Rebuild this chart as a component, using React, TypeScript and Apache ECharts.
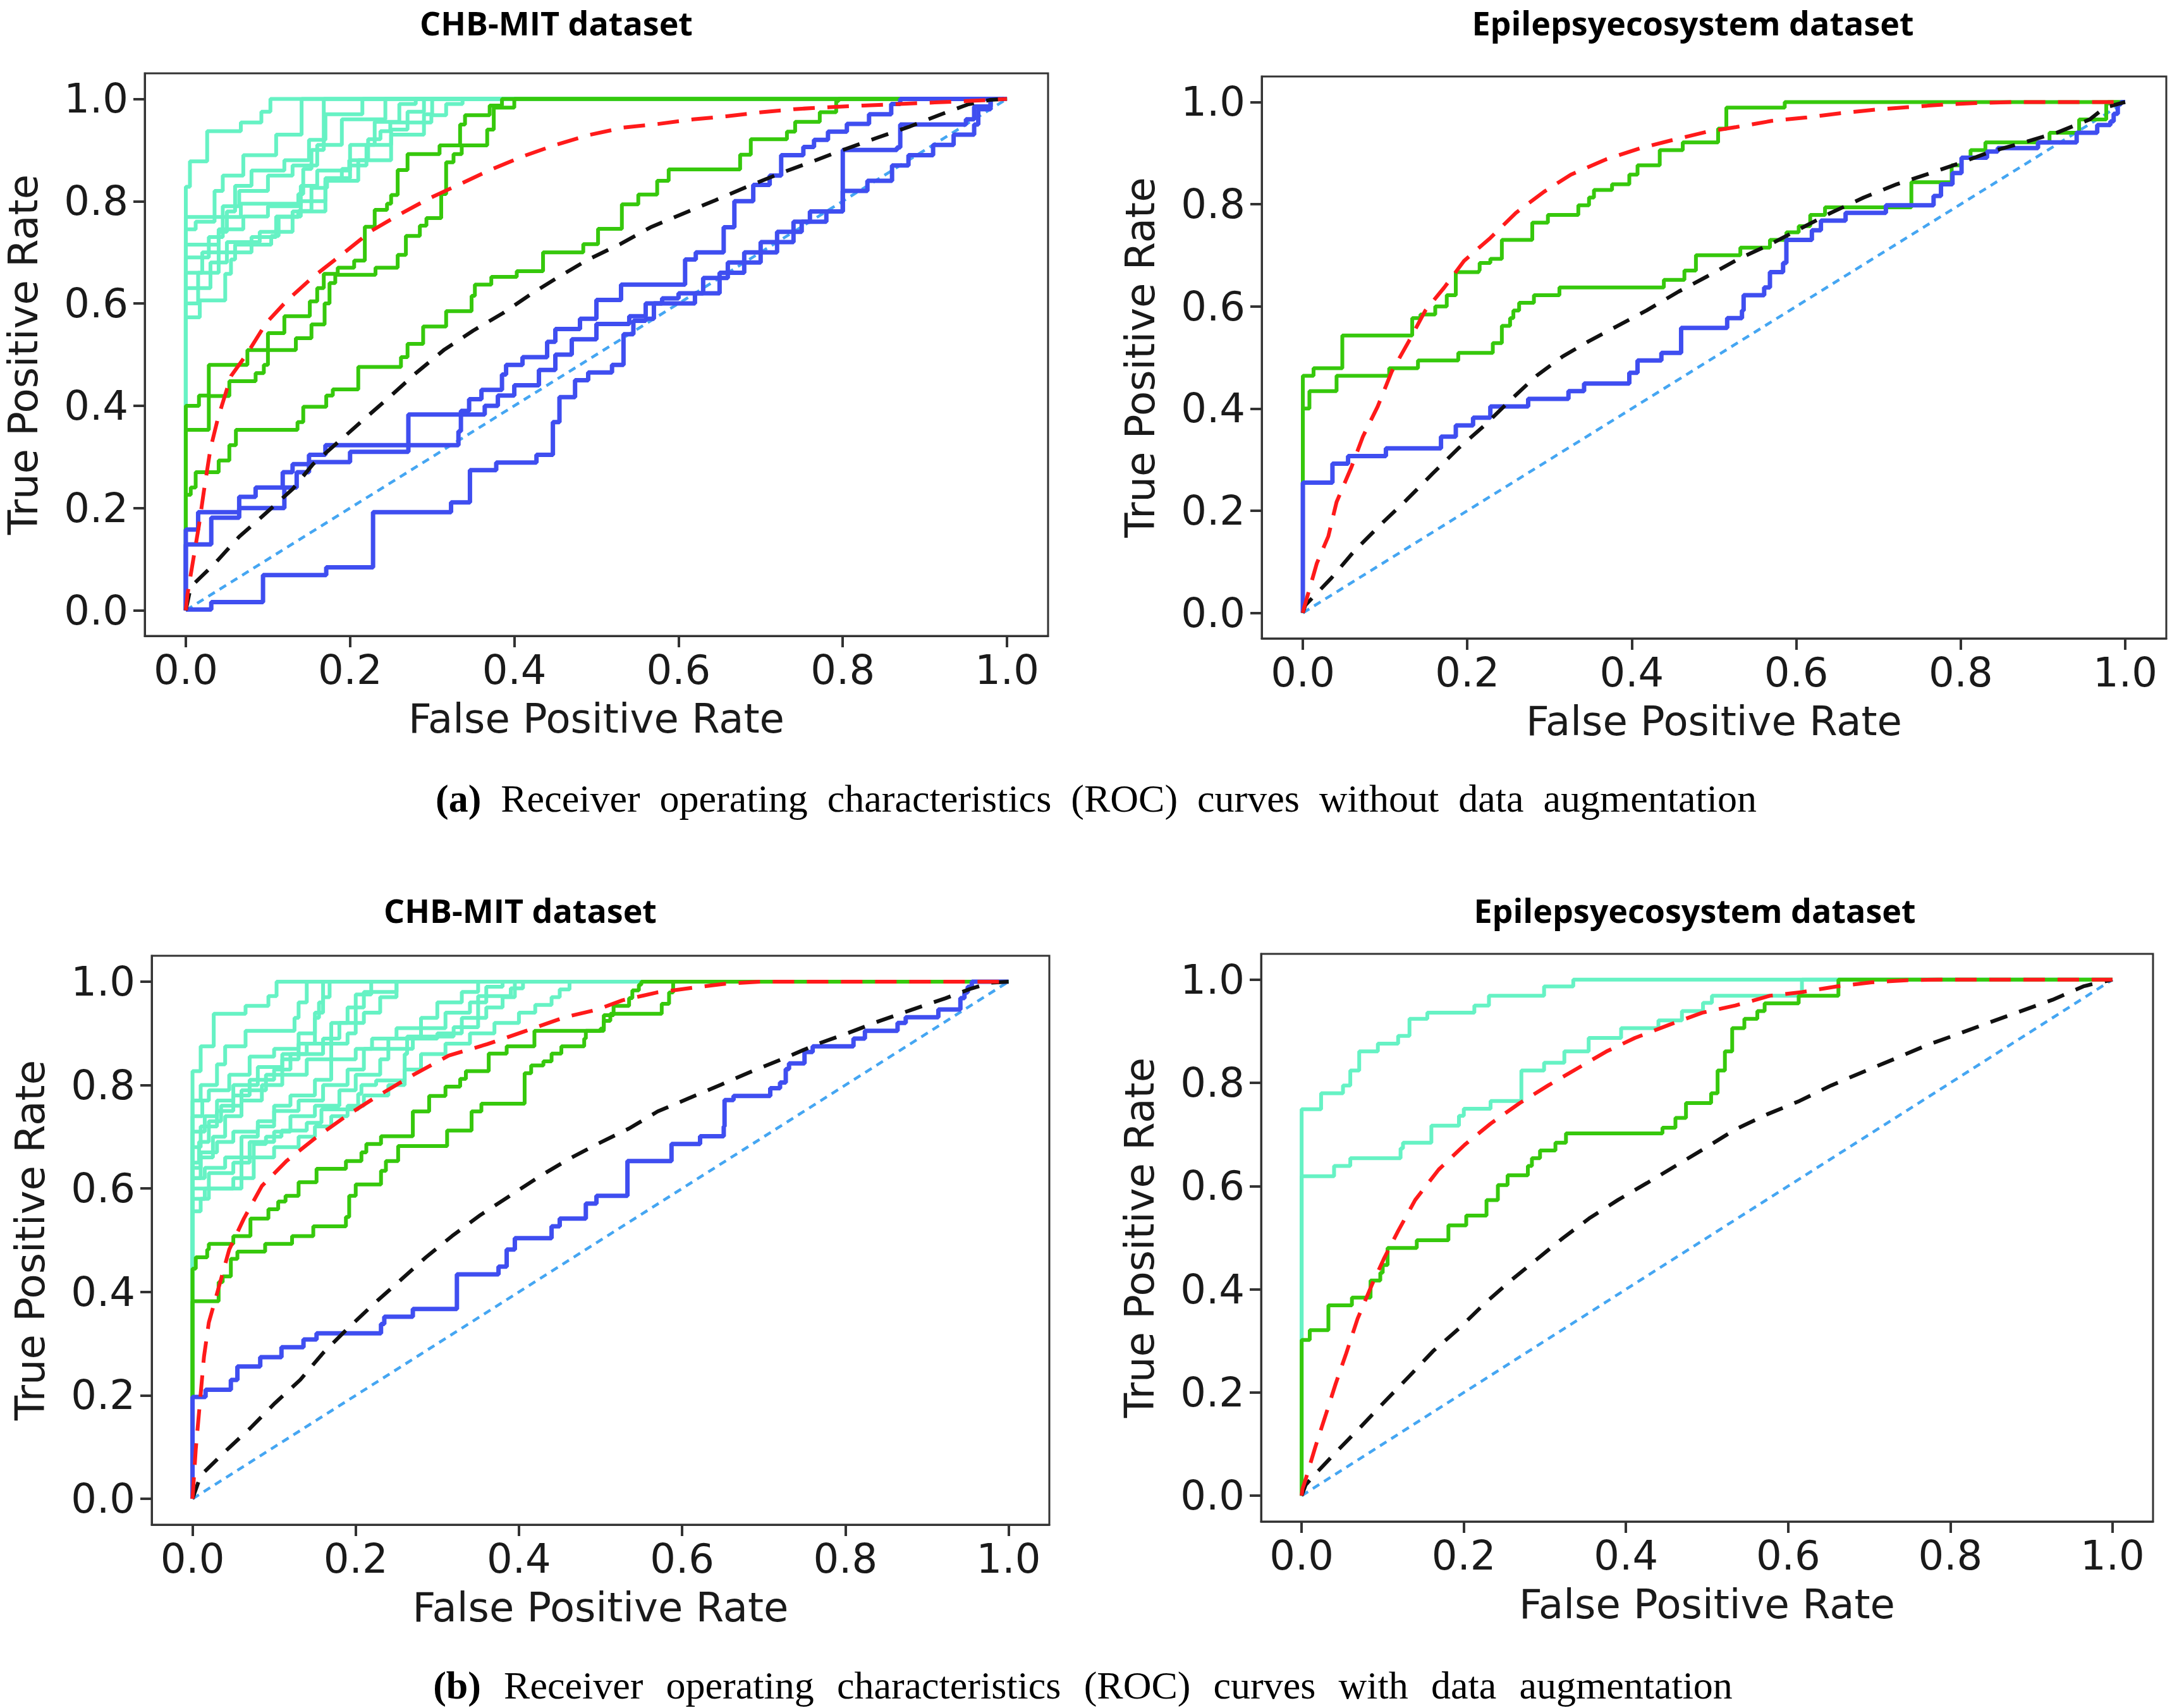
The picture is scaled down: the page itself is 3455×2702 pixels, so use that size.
import React, { useEffect, useRef } from "react";
import * as echarts from "echarts";

type Pt = [number, number];

// ---------- shared ----------
const tickValues = [0, 0.2, 0.4, 0.6, 0.8, 1.0];
const diagonal: Pt[] = [[0, 0], [1, 1]];
const panelTitles = ["CHB-MIT dataset", "Epilepsyecosystem dataset", "CHB-MIT dataset", "Epilepsyecosystem dataset"];
const xAxisTitle = "False Positive Rate";
const yAxisTitle = "True Positive Rate";
const captionA = ["(a)", "Receiver operating characteristics (ROC) curves without data augmentation"];
const captionB = ["(b)", "Receiver operating characteristics (ROC) curves with data augmentation"];

// ---------- (a) CHB-MIT ----------
const aChbCyan: Pt[][] = [
  [[0, 0], [0, .828], [.005, .878], [.026, .937], [.067, .954], [.092, .975], [.103, 1], [1, 1]],
  [[0, 0], [0, .769], [.067, .795], [.137, .814], [.143, .863], [.153, .9], [.168, 1], [1, 1]],
  [[0, 0], [0, .745], [.012, .76], [.035, .82], [.045, .85], [.07, .89], [.11, .93], [.141, 1], [1, 1]],
  [[0, 0], [0, .715], [.04, .74], [.05, .78], [.06, .83], [.08, .86], [.12, .88], [.15, .92], [.17, .97], [.215, 1], [1, 1]],
  [[0, 0], [0, .69], [.028, .73], [.045, .79], [.065, .82], [.1, .85], [.13, .87], [.16, .91], [.19, .96], [.243, 1], [1, 1]],
  [[0, 0], [0, .66], [.02, .7], [.04, .745], [.07, .77], [.1, .79], [.14, .83], [.16, .86], [.2, .91], [.23, .955], [.26, .99], [.28, 1], [1, 1]],
  [[0, 0], [0, .63], [.03, .68], [.05, .72], [.09, .74], [.13, .78], [.17, .84], [.21, .88], [.25, .93], [.29, .97], [.3, 1], [1, 1]],
  [[0, 0], [0, .6], [.015, .66], [.04, .7], [.08, .73], [.11, .77], [.14, .8], [.17, .845], [.2, .87], [.22, .91], [.25, .94], [.27, .975], [.29, 1], [1, 1]],
  [[0, 0], [0, .573], [.017, .606], [.048, .658], [.055, .686], [.06, .715], [.104, .732], [.113, .769], [.137, .781], [.153, .826], [.172, .843], [.19, .863], [.199, .88], [.222, .921], [.237, .937], [.249, .954], [.299, .968], [.317, .99], [.337, 1], [1, 1]],
];
const aChbGreen: Pt[][] = [
  [[0, 0], [0, .4], [.016, .42], [.028, .48], [.075, .509], [.1, .542], [.12, .575], [.151, .604], [.16, .63], [.168, .658], [.185, .67], [.205, .684], [.218, .75], [.23, .783], [.245, .795], [.25, .812], [.258, .861], [.27, .892], [.309, .909], [.334, .95], [.34, .968], [.37, .987], [.385, 1], [1, 1]],
  [[0, 0], [0, .353], [.028, .419], [.053, .448], [.085, .464], [.095, .48], [.1, .509], [.134, .532], [.153, .559], [.169, .6], [.175, .64], [.182, .656], [.231, .67], [.258, .695], [.268, .732], [.285, .752], [.293, .767], [.311, .814], [.317, .876], [.326, .892], [.336, .909], [.367, .94], [.375, .983], [.4, 1], [1, 1]],
  [[0, 0], [0, .226], [.006, .24], [.012, .27], [.04, .293], [.053, .323], [.061, .353], [.136, .368], [.143, .398], [.171, .42], [.179, .432], [.21, .476], [.262, .495], [.27, .521], [.289, .555], [.317, .585], [.348, .615], [.352, .637], [.372, .652], [.403, .663], [.435, .7], [.484, .716], [.502, .746], [.531, .794], [.551, .813], [.574, .84], [.588, .862], [.675, .891], [.688, .921], [.732, .936], [.742, .955], [.772, .974], [.792, .996], [.795, 1], [1, 1]],
];
const aChbBlue: Pt[][] = [
  [[0, 0], [0, .158], [.015, .192], [.065, .222], [.085, .24], [.118, .27], [.13, .286], [.15, .304], [.17, .323], [.332, .35], [.335, .39], [.345, .413], [.36, .431], [.385, .461], [.39, .48], [.41, .495], [.44, .525], [.45, .55], [.48, .57], [.5, .607], [.53, .637], [.608, .686], [.621, .7], [.655, .749], [.668, .8], [.691, .832], [.711, .85], [.725, .89], [.752, .906], [.765, .92], [.782, .936], [.805, .951], [.832, .97], [.859, .99], [.87, 1], [1, 1]],
  [[0, 0], [0, .129], [.031, .181], [.065, .2], [.12, .24], [.135, .27], [.15, .29], [.2, .31], [.271, .383], [.364, .4], [.38, .42], [.4, .44], [.43, .47], [.45, .5], [.47, .53], [.5, .56], [.54, .575], [.56, .6], [.58, .61], [.6, .62], [.63, .65], [.66, .68], [.7, .7], [.72, .74], [.75, .76], [.78, .78], [.8, .9], [.866, .905], [.87, .95], [.95, .96], [.96, .985], [.98, 1], [1, 1]],
  [[0, 0], [0, .0015], [.031, .016], [.094, .069], [.171, .084], [.228, .192], [.323, .211], [.346, .274], [.378, .289], [.427, .304], [.447, .368], [.455, .417], [.474, .45], [.49, .465], [.519, .48], [.533, .54], [.545, .566], [.56, .57], [.57, .6], [.6, .6], [.62, .62], [.65, .66], [.68, .7], [.7, .72], [.74, .76], [.76, .78], [.8, .82], [.83, .84], [.86, .87], [.88, .89], [.91, .91], [.935, .93], [.96, .95], [.965, .98], [.98, 1], [1, 1]],
];
const aChbRed: Pt[] = [[0, 0], [.002, .031], [.016, .166], [.022, .233], [.03, .316], [.039, .375], [.055, .458], [.075, .503], [.098, .562], [.124, .607], [.155, .652], [.191, .697], [.226, .742], [.258, .772], [.297, .806], [.332, .832], [.372, .862], [.411, .888], [.45, .91], [.49, .929], [.533, .944], [.575, .951], [.618, .96], [.658, .966], [.701, .974], [.741, .98], [.785, .984], [.825, .987], [.869, .99], [.912, .993], [.952, .996], [.979, .998], [1, 1]];
const aChbBlack: Pt[] = [[0, 0], [.006, .046], [.035, .091], [.065, .144], [.096, .188], [.13, .237], [.155, .286], [.187, .331], [.218, .375], [.25, .42], [.281, .465], [.315, .51], [.35, .547], [.386, .581], [.421, .619], [.454, .652], [.49, .686], [.529, .716], [.566, .749], [.606, .776], [.645, .802], [.683, .828], [.723, .854], [.762, .877], [.8, .9], [.84, .923], [.88, .945], [.92, .97], [.952, .989], [.979, .998], [1, 1]];

// ---------- (a) Epilepsyecosystem ----------
const aEpiCyan: Pt[][] = [];
const aEpiGreen: Pt[][] = [
  [[0, 0], [0, .464], [.013, .479], [.048, .543], [.133, .577], [.143, .584], [.161, .6], [.175, .622], [.186, .667], [.214, .67], [.215, .685], [.228, .693], [.242, .73], [.279, .764], [.298, .779], [.335, .798], [.348, .813], [.354, .828], [.376, .839], [.397, .858], [.407, .876], [.434, .906], [.462, .921], [.505, .948], [.515, .989], [.586, 1], [1, 1]],
  [[0, 0], [0, .4], [.008, .434], [.041, .464], [.105, .479], [.14, .494], [.189, .509], [.231, .528], [.242, .562], [.252, .577], [.256, .592], [.263, .607], [.281, .622], [.312, .637], [.439, .652], [.464, .67], [.478, .7], [.532, .715], [.568, .73], [.588, .745], [.603, .757], [.617, .779], [.635, .794], [.74, .843], [.789, .876], [.801, .891], [.812, .906], [.83, .921], [.908, .94], [.944, .966], [.977, .996], [.979, 1], [1, 1]],
];
const aEpiBlue: Pt[][] = [
  [[0, 0], [0, .255], [.036, .292], [.055, .307], [.101, .322], [.168, .345], [.186, .367], [.207, .382], [.228, .404], [.274, .419], [.323, .434], [.342, .449], [.397, .47], [.407, .494], [.436, .509], [.46, .558], [.516, .577], [.534, .592], [.536, .622], [.561, .637], [.568, .667], [.584, .685], [.588, .73], [.619, .749], [.63, .768], [.66, .783], [.709, .798], [.767, .816], [.776, .839], [.79, .861], [.801, .891], [.832, .903], [.845, .91], [.894, .921], [.941, .94], [.966, .955], [.982, .962], [.986, .977], [.991, .996], [.995, 1], [1, 1]],
];
const aEpiRed: Pt[] = [[0, 0], [.001, .007], [.017, .097], [.031, .15], [.041, .217], [.059, .285], [.073, .345], [.091, .404], [.108, .472], [.129, .532], [.149, .592], [.172, .637], [.196, .689], [.228, .734], [.259, .783], [.293, .824], [.326, .858], [.369, .888], [.411, .91], [.453, .927], [.492, .942], [.527, .951], [.57, .963], [.613, .97], [.653, .978], [.696, .985], [.736, .99], [.779, .995], [.819, .998], [.862, 1], [1, 1]];
const aEpiBlack: Pt[] = [[0, 0], [.003, .015], [.034, .067], [.062, .12], [.094, .172], [.126, .221], [.158, .273], [.189, .322], [.221, .367], [.252, .416], [.284, .464], [.316, .502], [.348, .532], [.383, .562], [.418, .592], [.457, .629], [.492, .659], [.53, .693], [.57, .723], [.606, .753], [.642, .783], [.682, .813], [.722, .839], [.758, .858], [.798, .88], [.837, .903], [.877, .921], [.917, .94], [.957, .966], [.975, .989], [1, 1]];

// ---------- (b) CHB-MIT ----------
const bChbCyan: Pt[][] = [
  [[0, 0], [0, .827], [.01, .875], [.026, .938], [.065, .953], [.093, .972], [.103, 1], [1, 1]],
  [[0, 0], [0, .77], [.01, .8], [.03, .84], [.04, .875], [.065, .905], [.125, .93], [.13, .96], [.14, 1], [1, 1]],
  [[0, 0], [0, .74], [.012, .77], [.02, .79], [.045, .82], [.07, .855], [.1, .87], [.13, .9], [.15, .94], [.16, .97], [.168, 1], [1, 1]],
  [[0, 0], [0, .71], [.015, .74], [.03, .77], [.05, .8], [.08, .835], [.11, .86], [.14, .88], [.17, .92], [.19, .95], [.2, .975], [.219, 1], [1, 1]],
  [[0, 0], [0, .68], [.01, .72], [.03, .75], [.05, .78], [.07, .81], [.1, .83], [.12, .86], [.16, .89], [.18, .92], [.21, .94], [.23, .97], [.25, 1], [1, 1]],
  [[0, 0], [0, .65], [.008, .69], [.02, .73], [.035, .76], [.06, .79], [.09, .82], [.11, .85], [.13, .88], [.15, .93], [.155, .96], [.16, 1], [1, 1]],
  [[0, 0], [0, .62], [.01, .66], [.025, .7], [.04, .74], [.06, .77], [.085, .8], [.11, .82], [.14, .85], [.17, .88], [.19, .9], [.2, .95], [.21, .98], [.25, 1], [1, 1]],
  [[0, 0], [0, .556], [.01, .58], [.02, .6], [.05, .62], [.06, .66], [.075, .686], [.09, .7], [.109, .712], [.14, .727], [.158, .753], [.203, .783], [.207, .8], [.225, .809], [.26, .86], [.263, .894], [.32, .912], [.35, .972], [.39, .987], [.405, 1], [1, 1]],
  [[0, 0], [0, .58], [.015, .6], [.06, .62], [.075, .66], [.1, .68], [.13, .7], [.15, .72], [.17, .74], [.19, .76], [.21, .78], [.24, .8], [.26, .83], [.28, .86], [.31, .88], [.34, .9], [.37, .92], [.4, .94], [.42, .955], [.44, .97], [.45, .985], [.462, 1], [1, 1]],
  [[0, 0], [0, .6], [.02, .63], [.05, .65], [.07, .69], [.1, .71], [.12, .74], [.15, .76], [.18, .79], [.2, .82], [.23, .85], [.24, .87], [.27, .89], [.3, .9], [.33, .93], [.36, .95], [.38, .97], [.395, 1], [1, 1]],
  [[0, 0], [0, .62], [.015, .64], [.04, .66], [.06, .7], [.08, .72], [.1, .75], [.13, .77], [.16, .8], [.19, .83], [.21, .87], [.24, .89], [.28, .91], [.31, .94], [.34, .96], [.36, .99], [.38, 1], [1, 1]],
  [[0, 0], [0, .64], [.01, .67], [.03, .69], [.05, .71], [.08, .73], [.1, .76], [.12, .78], [.15, .81], [.17, .85], [.2, .87], [.22, .89], [.25, .91], [.28, .93], [.3, .96], [.33, .98], [.35, 1], [1, 1]],
];
const bChbGreen: Pt[][] = [
  [[0, 0], [0, .445], [.004, .467], [.018, .482], [.02, .493], [.05, .508], [.071, .542], [.093, .56], [.105, .575], [.114, .586], [.13, .612], [.152, .638], [.188, .653], [.207, .67], [.213, .686], [.231, .701], [.27, .749], [.29, .779], [.31, .797], [.328, .812], [.335, .827], [.363, .861], [.385, .875], [.419, .905], [.504, .935], [.516, .953], [.535, .968], [.539, .983], [.547, .994], [.55, 1], [1, 1]],
  [[0, 0], [0, .382], [.032, .419], [.037, .43], [.047, .464], [.055, .478], [.089, .493], [.122, .508], [.148, .527], [.188, .545], [.192, .586], [.2, .608], [.231, .634], [.237, .653], [.252, .682], [.312, .712], [.342, .749], [.354, .764], [.407, .823], [.415, .838], [.43, .846], [.44, .861], [.452, .875], [.48, .89], [.482, .905], [.5, .909], [.504, .924], [.512, .938], [.575, .957], [.584, .979], [.589, 1], [1, 1]],
];
const bChbBlue: Pt[][] = [
  [[0, 0], [0, .197], [.016, .211], [.047, .23], [.055, .256], [.083, .274], [.109, .293], [.136, .308], [.152, .32], [.231, .338], [.235, .352], [.27, .367], [.324, .434], [.375, .449], [.385, .482], [.395, .504], [.44, .527], [.45, .542], [.482, .571], [.495, .586], [.533, .653], [.587, .686], [.622, .701], [.651, .72], [.652, .771], [.663, .779], [.708, .794], [.72, .805], [.727, .831], [.731, .842], [.75, .864], [.76, .875], [.81, .89], [.824, .905], [.864, .92], [.874, .931], [.914, .946], [.941, .968], [.946, .979], [.95, .99], [.955, 1], [1, 1]],
];
const bChbRed: Pt[] = [[0, 0], [.004, .096], [.008, .167], [.014, .274], [.02, .341], [.032, .408], [.045, .482], [.063, .542], [.085, .605], [.115, .653], [.15, .697], [.19, .742], [.227, .779], [.271, .82], [.314, .857], [.361, .879], [.409, .905], [.456, .931], [.496, .946], [.527, .964], [.569, .979], [.612, .988], [.653, .996], [.696, 1], [1, 1]];
const bChbBlack: Pt[] = [[0, 0], [.01, .045], [.041, .093], [.071, .137], [.101, .185], [.132, .23], [.16, .282], [.188, .326], [.223, .378], [.255, .423], [.286, .467], [.318, .508], [.353, .549], [.389, .586], [.425, .623], [.46, .656], [.496, .686], [.535, .716], [.57, .749], [.609, .775], [.648, .801], [.686, .827], [.727, .853], [.765, .879], [.804, .901], [.842, .924], [.882, .946], [.923, .968], [.955, .987], [.978, .998], [1, 1]];

// ---------- (b) Epilepsyecosystem ----------
const bEpiCyan: Pt[][] = [
  [[0, 0], [0, .749], [.024, .78], [.051, .795], [.06, .824], [.071, .861], [.094, .876], [.119, .891], [.133, .924], [.155, .936], [.213, .95], [.231, .969], [.299, .987], [.335, 1], [1, 1]],
  [[0, 0], [0, .619], [.04, .639], [.06, .654], [.122, .673], [.125, .684], [.16, .717], [.194, .736], [.2, .75], [.233, .765], [.271, .824], [.299, .839], [.324, .861], [.354, .887], [.394, .906], [.44, .921], [.469, .939], [.495, .955], [.506, .969], [.617, 1], [1, 1]],
];
const bEpiGreen: Pt[][] = [
  [[0, 0], [0, .302], [.01, .321], [.033, .369], [.062, .384], [.085, .417], [.097, .432], [.1, .447], [.106, .48], [.142, .495], [.181, .524], [.203, .543], [.228, .573], [.242, .602], [.254, .621], [.279, .639], [.284, .654], [.294, .669], [.313, .684], [.326, .702], [.445, .713], [.461, .732], [.474, .761], [.505, .78], [.513, .824], [.522, .861], [.531, .906], [.546, .924], [.562, .939], [.571, .954], [.613, .969], [.662, 1], [1, 1]],
];
const bEpiBlue: Pt[][] = [];
const bEpiRed: Pt[] = [[0, 0], [.001, .013], [.005, .032], [.017, .095], [.03, .158], [.042, .217], [.055, .276], [.069, .343], [.087, .41], [.102, .461], [.119, .513], [.14, .573], [.169, .632], [.201, .68], [.233, .721], [.269, .761], [.304, .795], [.34, .828], [.376, .861], [.411, .887], [.454, .913], [.494, .936], [.535, .95], [.578, .969], [.617, .976], [.66, .987], [.703, .995], [.746, .999], [.785, 1], [1, 1]];
const bEpiBlack: Pt[] = [[0, 0], [.005, .021], [.015, .039], [.044, .087], [.072, .132], [.101, .18], [.133, .232], [.162, .28], [.194, .324], [.226, .373], [.258, .417], [.29, .458], [.322, .499], [.356, .539], [.39, .573], [.426, .606], [.461, .639], [.497, .673], [.535, .71], [.574, .739], [.614, .765], [.653, .795], [.692, .821], [.732, .847], [.771, .873], [.81, .895], [.848, .917], [.887, .939], [.926, .961], [.964, .987], [.974, .991], [1, 1]];

const panelData = [
  { cyan: aChbCyan, green: aChbGreen, blue: aChbBlue, red: aChbRed, black: aChbBlack },
  { cyan: aEpiCyan, green: aEpiGreen, blue: aEpiBlue, red: aEpiRed, black: aEpiBlack },
  { cyan: bChbCyan, green: bChbGreen, blue: bChbBlue, red: bChbRed, black: bChbBlack },
  { cyan: bEpiCyan, green: bEpiGreen, blue: bEpiBlue, red: bEpiRed, black: bEpiBlack },
];

// ---------- layout & style ----------
const gridBoxes = [
  { left: 229, top: 116, width: 1429, height: 890, titleX: 880, titleY: 35 },
  { left: 1996, top: 121, width: 1431, height: 889, titleX: 2678, titleY: 35 },
  { left: 240, top: 1512, width: 1420, height: 900, titleX: 823, titleY: 1439 },
  { left: 1995, top: 1509, width: 1411, height: 898, titleX: 2681, titleY: 1439 },
];
const COLORS = {
  cyan: "#66f2c4",
  green: "#36c80c",
  blue: "#3f4ef0",
  red: "#ff1a1a",
  black: "#111111",
  diag: "#45a6f2",
  frame: "#333333",
  text: "#1a1a1a",
};
const TICK_FONT = "DejaVu Sans";

function buildOption() {
  const grid: any[] = [];
  const xAxis: any[] = [];
  const yAxis: any[] = [];
  const series: any[] = [];
  const graphic: any[] = [];

  gridBoxes.forEach((g, i) => {
    grid.push({
      left: g.left, top: g.top, width: g.width, height: g.height,
      show: true, borderColor: COLORS.frame, borderWidth: 3, backgroundColor: "transparent",
      containLabel: false,
    });
    const common = {
      type: "value",
      gridIndex: i,
      min: -0.05,
      max: 1.05,
      splitLine: { show: false },
      axisLine: { show: true, onZero: false, lineStyle: { color: COLORS.frame, width: 3 } },
      axisTick: {
        show: true, inside: false, length: 18, customValues: tickValues,
        lineStyle: { color: COLORS.frame, width: 4 },
      },
      axisLabel: {
        customValues: tickValues,
        formatter: (v: number) => v.toFixed(1),
        fontSize: 64, fontFamily: TICK_FONT, color: COLORS.text,
      },
      nameLocation: "middle",
      nameTextStyle: { fontSize: 64, fontFamily: TICK_FONT, color: COLORS.text },
    };
    xAxis.push({
      ...common,
      position: "bottom",
      axisLabel: { ...common.axisLabel, margin: 22 },
      name: xAxisTitle,
      nameGap: 99,
    });
    yAxis.push({
      ...common,
      position: "left",
      axisLabel: { ...common.axisLabel, margin: 26 },
      name: yAxisTitle,
      nameGap: 160,
    });

    const d = panelData[i];
    const base = { type: "line", xAxisIndex: i, yAxisIndex: i, symbol: "none", showSymbol: false, silent: true, animation: false };
    series.push({ ...base, data: diagonal, lineStyle: { color: COLORS.diag, width: 4.5, type: [12, 9] } });
    d.cyan.forEach((c) => series.push({ ...base, data: c, step: "end", lineStyle: { color: COLORS.cyan, width: 6 } }));
    d.green.forEach((c) => series.push({ ...base, data: c, step: "end", lineStyle: { color: COLORS.green, width: 6 } }));
    d.blue.forEach((c) => series.push({ ...base, data: c, step: "end", lineStyle: { color: COLORS.blue, width: 7 } }));
    series.push({ ...base, data: d.black, lineStyle: { color: COLORS.black, width: 6, type: [28, 20] } });
    series.push({ ...base, data: d.red, lineStyle: { color: COLORS.red, width: 6, type: [34, 20] } });

    graphic.push({
      type: "text", x: g.titleX, y: g.titleY, silent: true,
      style: {
        text: panelTitles[i], fontFamily: "Open Sans", fontWeight: "bold", fontSize: 52,
        fill: "#000", align: "center", verticalAlign: "middle",
      },
    });
  });

  const caption = (parts: string[], gap: string, x: number, y: number) => ({
    type: "text", x, y, silent: true,
    style: {
      text: `{b|${parts[0]}}${gap}${parts[1].split(" ").join(gap)}`,
      fontFamily: "Liberation Serif", fontSize: 62, fill: "#000",
      align: "center", verticalAlign: "middle",
      rich: { b: { fontFamily: "Liberation Serif", fontSize: 62, fontWeight: "bold", fill: "#000" } },
    },
  });
  graphic.push(caption(captionA, "\u00a0 ", 1734, 1263));
  graphic.push(caption(captionB, "\u00a0\u200a ", 1713, 2666));

  return { animation: false, backgroundColor: "#ffffff", grid, xAxis, yAxis, series, graphic };
}

export default function App() {
  const ref = useRef<HTMLDivElement>(null);
  useEffect(() => {
    document.body.style.margin = "0";
    document.body.style.overflow = "hidden";
    if (!ref.current) return;
    const chart = echarts.init(ref.current, undefined, { renderer: "svg" });
    chart.setOption(buildOption() as any);
    return () => chart.dispose();
  }, []);
  return (
    <div
      ref={ref}
      style={{ position: "absolute", left: 0, top: 0, width: 3455, height: 2702, background: "#fff" }}
    />
  );
}
